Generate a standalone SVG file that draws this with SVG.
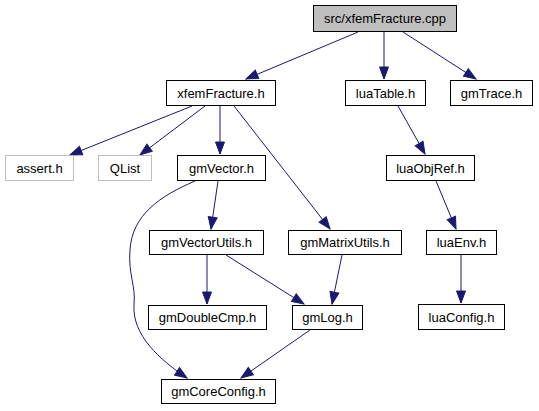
<svg xmlns="http://www.w3.org/2000/svg" width="539" height="411" viewBox="0 0 539 411">
<style>
.n rect{fill:#fff;stroke:#000;stroke-width:1}
.n.g rect{stroke:#bfbfbf}
.n.r rect{fill:#bfbfbf}
.n text{font-family:"Liberation Sans",Arial,sans-serif;font-size:13px;fill:#000;text-anchor:middle}
.e path{fill:none;stroke:#191970;stroke-width:1;marker-end:url(#a)}
</style>
<defs>
<marker id="a" markerUnits="userSpaceOnUse" markerWidth="14" markerHeight="12" viewBox="0 0 14 12" refX="13" refY="6" orient="auto">
<path d="M1,1.5 L13,6 L1,10.5 Z" fill="#191970" stroke="#191970" stroke-width="1"/>
</marker>
</defs>
<rect width="539" height="411" fill="#fff"/>
<g id="edges" class="e">
<path d="M358,32 L246,79"/>
<path d="M384,32 L384,79"/>
<path d="M403,32 L476,79"/>
<path d="M192,106 L70,155"/>
<path d="M205,106 L140,155"/>
<path d="M220,106 L220,154"/>
<path d="M234,106 L330,229"/>
<path d="M218,181 L211,229"/>
<path d="M195,181 C160,196 132,215 130,250 C128,275 136,285 134,305 C132,335 160,360 187,378"/>
<path d="M207,255 L207,304"/>
<path d="M226,255 L304,304"/>
<path d="M342,255 L332,304"/>
<path d="M310,330 L241,378"/>
<path d="M398,106 L425,154"/>
<path d="M436,181 L456,229"/>
<path d="M461,255 L461,303"/>
</g>
<g id="root" class="n r"><rect x="313.5" y="5.5" width="143" height="26"/><text x="385" y="23">src/xfemFracture.cpp</text></g>
<g id="xfemFracture" class="n"><rect x="166.5" y="80.5" width="109" height="25"/><text x="221" y="97.5">xfemFracture.h</text></g>
<g id="luaTable" class="n"><rect x="345.5" y="80.5" width="80" height="25"/><text x="385.5" y="97.5">luaTable.h</text></g>
<g id="gmTrace" class="n"><rect x="450.5" y="80.5" width="82" height="25"/><text x="491.5" y="97.5">gmTrace.h</text></g>
<g id="assert" class="n g"><rect x="5.5" y="155.5" width="68" height="25"/><text x="39.5" y="172.5">assert.h</text></g>
<g id="QList" class="n g"><rect x="98.5" y="155.5" width="53" height="25"/><text x="125" y="172.5">QList</text></g>
<g id="gmVector" class="n"><rect x="177.5" y="155.5" width="88" height="25"/><text x="221.5" y="172.5">gmVector.h</text></g>
<g id="luaObjRef" class="n"><rect x="386.5" y="155.5" width="88" height="25"/><text x="430.5" y="172.5">luaObjRef.h</text></g>
<g id="gmVectorUtils" class="n"><rect x="149.5" y="230.5" width="114" height="24"/><text x="206.5" y="247">gmVectorUtils.h</text></g>
<g id="gmMatrixUtils" class="n"><rect x="288.5" y="230.5" width="113" height="24"/><text x="345" y="247">gmMatrixUtils.h</text></g>
<g id="luaEnv" class="n"><rect x="426.5" y="230.5" width="70" height="24"/><text x="461.5" y="247">luaEnv.h</text></g>
<g id="gmDoubleCmp" class="n"><rect x="148.5" y="305.5" width="118" height="24"/><text x="207.5" y="322">gmDoubleCmp.h</text></g>
<g id="gmLog" class="n"><rect x="292.5" y="305.5" width="70" height="24"/><text x="327.5" y="322">gmLog.h</text></g>
<g id="luaConfig" class="n"><rect x="418.5" y="304.5" width="86" height="25"/><text x="461.5" y="321.5">luaConfig.h</text></g>
<g id="gmCoreConfig" class="n"><rect x="161.5" y="379.5" width="114" height="24"/><text x="218.5" y="396">gmCoreConfig.h</text></g>
</svg>
